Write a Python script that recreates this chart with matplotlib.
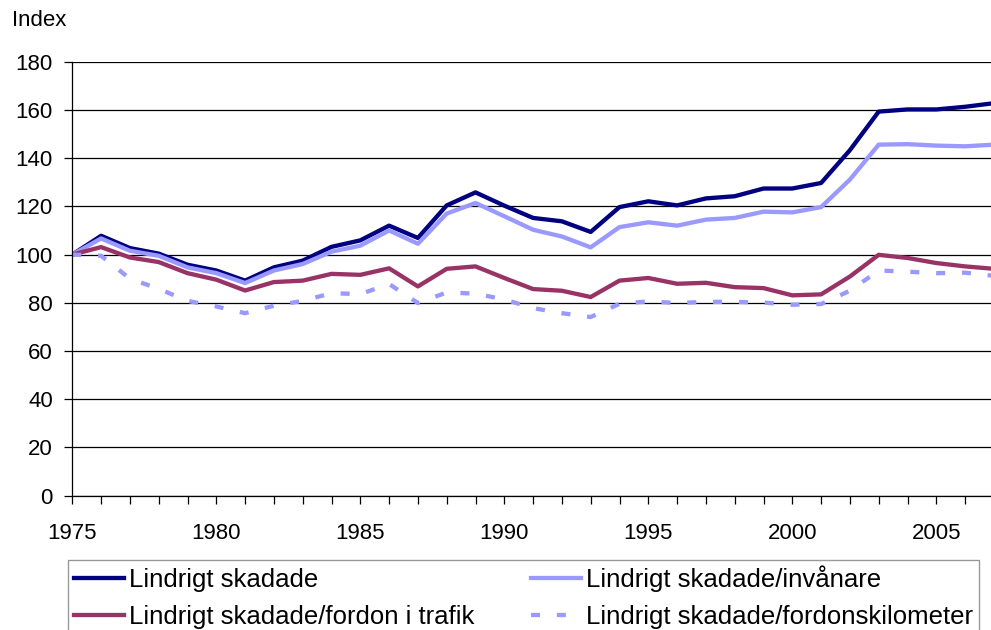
import matplotlib
matplotlib.use('Agg')
import matplotlib.pyplot as plt

plt.rcParams['font.family'] = ['Liberation Sans', 'DejaVu Sans']

years = list(range(1975, 2008))

# Indexserier, 1975 = 100
skadade = [100, 107.8, 102.7, 100.4, 95.8, 93.4, 89.2, 94.7, 97.5, 103.2,
           105.9, 112.0, 106.9, 120.4, 125.8, 120.3, 115.2, 113.8, 109.4, 119.7,
           122.1, 120.4, 123.3, 124.2, 127.4, 127.4, 129.7, 143.3, 159.3, 160.2,
           160.2, 161.3, 162.8]
invanare = [100, 106.7, 101.6, 99.5, 94.7, 92.3, 88.2, 93.4, 96.1, 101.2,
            103.7, 110.0, 104.5, 117.0, 121.4, 115.9, 110.3, 107.5, 103.0, 111.4,
            113.4, 112.0, 114.5, 115.2, 117.8, 117.5, 119.7, 131.1, 145.6, 145.8,
            145.2, 144.9, 145.6]
fordon = [100, 103.1, 98.8, 96.9, 92.3, 89.6, 85.1, 88.6, 89.2, 92.0,
          91.6, 94.3, 86.8, 94.1, 95.1, 90.3, 85.7, 85.0, 82.4, 89.2,
          90.3, 87.9, 88.3, 86.5, 86.1, 83.1, 83.5, 90.9, 99.9, 98.6,
          96.5, 95.1, 94.1]
fordonskm = [100, 99.5, 90.0, 85.8, 80.8, 78.5, 75.7, 78.8, 80.8, 84.0,
             83.6, 87.8, 79.9, 84.3, 83.8, 81.4, 77.8, 75.7, 74.1, 79.6,
             80.6, 79.9, 80.4, 80.4, 80.1, 79.2, 79.5, 85.0, 93.4, 92.9,
             92.3, 92.5, 91.2]

labels = ['Lindrigt skadade', 'Lindrigt skadade/invånare',
          'Lindrigt skadade/fordon i trafik', 'Lindrigt skadade/fordonskilometer']

fig = plt.figure(figsize=(9.91, 6.3), dpi=100)
ax = fig.add_axes([72.3 / 991, 134.3 / 630, 921.6 / 991, 434 / 630])

lw = 3.1
l1, = ax.plot(years, skadade, color='#000080', lw=lw)
l2, = ax.plot(years, invanare, color='#9999FF', lw=lw)
l3, = ax.plot(years, fordon, color='#993366', lw=lw)
l4, = ax.plot(years, fordonskm, color='#9999FF', lw=lw, linestyle=(0, (2.1, 3.9)),
              dash_capstyle='butt')

ax.set_xlim(1975, 2007)
ax.set_ylim(0, 180)
ax.set_yticks(range(0, 181, 20))
ax.set_xticks(range(1975, 2006, 5))
ax.set_xticks(years, minor=True)
ax.yaxis.grid(True, color='black', lw=0.9)
ax.set_axisbelow(True)

for s in ['top', 'right']:
    ax.spines[s].set_visible(False)
for s in ['left', 'bottom']:
    ax.spines[s].set_linewidth(0.9)

ax.tick_params(axis='y', labelsize=16, length=6, width=0.9, pad=8)
ax.tick_params(axis='x', which='both', labelsize=16, length=6, width=0.9, pad=14)

fig.text(11.7 / 991, 1 - 20 / 630, 'Index', fontsize=16, va='center', ha='left')

# radvis ordning i legenden: matplotlib fyller kolumnvis
leg = fig.legend([l1, l3, l2, l4], [labels[0], labels[2], labels[1], labels[3]],
                 ncol=2, loc='upper left',
                 bbox_to_anchor=(68.3 / 991, 1 - 560 / 630),
                 fontsize=18.5, frameon=True, fancybox=False, edgecolor='#808080',
                 handlelength=1.95, handletextpad=0.2, columnspacing=2.2,
                 borderpad=0.22, labelspacing=0.48, borderaxespad=0)
leg.get_frame().set_linewidth(1.0)

fig.savefig('out.png', dpi=100)
